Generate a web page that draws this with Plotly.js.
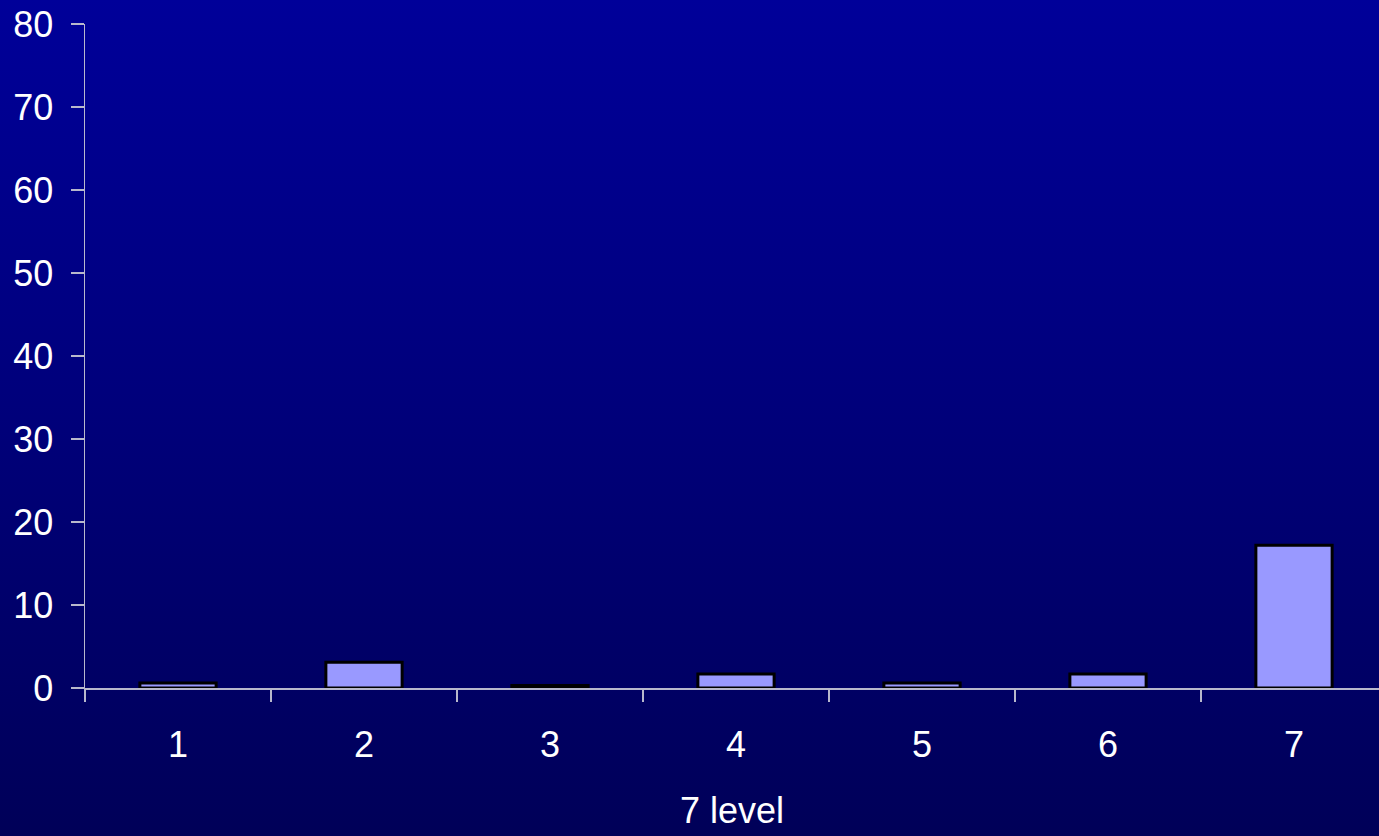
<!DOCTYPE html>
<html>
<head>
<meta charset="utf-8">
<script src="https://cdn.plot.ly/plotly-3.0.1.min.js"></script>
<style>
  html, body { margin: 0; padding: 0; }
  #chart {
    width: 1379px; height: 836px;
    background: linear-gradient(to bottom, #000099 0%, #00007a 50%, #000058 100%);
  }
</style>
</head>
<body>
<div id="chart"></div>
<script>
// Counts per level
const levels = ['1', '2', '3', '4', '5', '6', '7'];
const counts = [0.6, 3.1, 0.3, 1.7, 0.6, 1.7, 17.2];
const yTicks = [0, 10, 20, 30, 40, 50, 60, 70, 80];
const xTitle = '7 level';

const trace = {
  type: 'bar',
  x: levels,
  y: counts,
  marker: { color: '#9999ff', line: { color: '#000000', width: 3 } },
  hoverinfo: 'skip'
};

const axisColor = '#b8b8cc';
const font = { family: 'Liberation Sans, Arial, sans-serif', size: 36, color: '#ffffff' };

const layout = {
  width: 1379, height: 836,
  paper_bgcolor: 'rgba(0,0,0,0)',
  plot_bgcolor: 'rgba(0,0,0,0)',
  margin: { l: 85, r: 0, t: 24, b: 148, pad: 0 },
  showlegend: false,
  bargap: 0.59,
  font: font,
  xaxis: {
    type: 'category',
    // the last category runs slightly past the right edge
    range: [-0.5, 6.457],
    showline: true, linecolor: axisColor, linewidth: 2,
    ticks: 'outside', tickson: 'boundaries', ticklen: 12, tickwidth: 1.5, tickcolor: axisColor,
    showgrid: false, zeroline: false,
    tickfont: font,
    ticklabelstandoff: 24,
    title: { text: xTitle, font: font, standoff: 34 }
  },
  yaxis: {
    range: [0, 80],
    tickvals: yTicks,
    ticktext: yTicks.map(String),
    showline: true, linecolor: axisColor, linewidth: 1.5,
    ticks: 'outside', ticklen: 13, tickwidth: 2, tickcolor: axisColor,
    showgrid: false, zeroline: false,
    tickfont: font,
    ticklabelstandoff: 10
  }
};

Plotly.newPlot('chart', [trace], layout, { displayModeBar: false, staticPlot: true });
</script>
</body>
</html>
